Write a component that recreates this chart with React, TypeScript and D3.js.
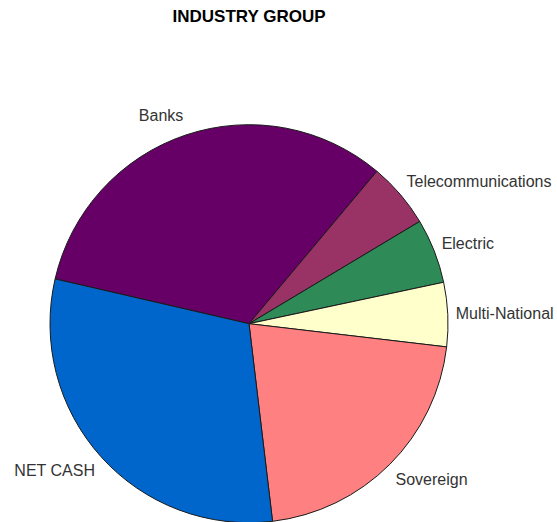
import React from "react";
import * as d3 from "d3";

const categories = ["Banks", "Telecommunications", "Electric", "Multi-National", "Sovereign", "NET CASH"];
const values = [32.5, 5.3, 5.25, 5.2, 21.25, 30.5];
const colors = ["#660066", "#993366", "#2E8B57", "#FFFFCC", "#FF8080", "#0066CC"];
const title = "INDUSTRY GROUP";

const W = 557;
const H = 522;

export default function App() {
  const cx = 249;
  const cy = 323.7;
  const r = 199;
  const startDeg = -77;
  const pie = d3
    .pie<number>()
    .sort(null)
    .value((d) => d)
    .startAngle((startDeg * Math.PI) / 180)
    .endAngle(((startDeg + 360) * Math.PI) / 180);
  const arcs = pie(values);
  const arc = d3.arc<d3.PieArcDatum<number>>().innerRadius(0).outerRadius(r);
  const rx = 207;
  const ry = 220;

  return (
    <svg
      width={W}
      height={H}
      style={{ position: "absolute", left: 0, top: 0, background: "#fff" }}
      fontFamily="'Liberation Sans', Arial, sans-serif"
    >
      <text x={cx} y={21.5} textAnchor="middle" fontSize={17} fontWeight="bold" fill="#000">
        {title}
      </text>
      <g transform={`translate(${cx},${cy})`}>
        {arcs.map((a, i) => (
          <path key={i} d={arc(a) || ""} fill={colors[i]} stroke="#1a1a1a" strokeWidth={1} />
        ))}
        {arcs.map((a, i) => {
          const mid = (a.startAngle + a.endAngle) / 2;
          const x = Math.sin(mid) * rx;
          const y = -Math.cos(mid) * ry;
          const anchor = x >= 0 ? "start" : "end";
          return (
            <text
              key={"l" + i}
              x={x}
              y={y}
              dy="0.35em"
              textAnchor={anchor}
              fontSize={16}
              fill="#333"
            >
              {categories[i]}
            </text>
          );
        })}
      </g>
    </svg>
  );
}
